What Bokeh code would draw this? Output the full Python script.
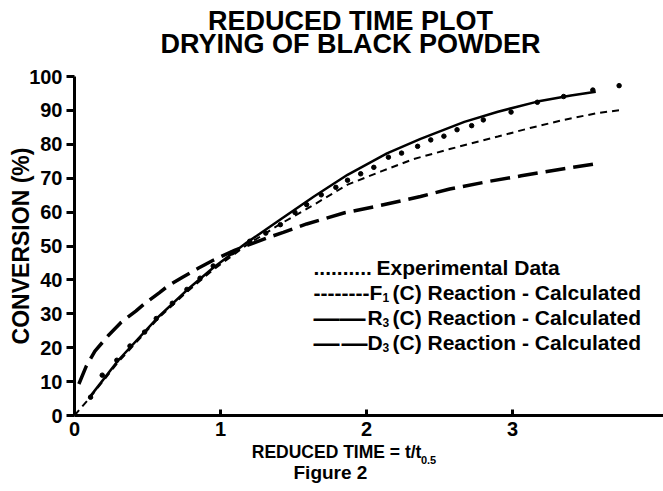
from bokeh.plotting import figure
from bokeh.models import Label, Range1d, FixedTicker, LinearAxis
from bokeh.embed import file_html
from bokeh.resources import INLINE

# ---- data ----
exp_x = [0.11, 0.19, 0.29, 0.38, 0.48, 0.56, 0.67, 0.77, 0.86, 0.95, 1.08, 1.20, 1.31, 1.41,
         1.51, 1.59, 1.69, 1.79, 1.87, 1.96, 2.05, 2.15, 2.24, 2.35, 2.44, 2.53, 2.62, 2.72,
         2.80, 2.99, 3.17, 3.35, 3.55, 3.73]
exp_y = [5.4, 11.9, 16.3, 20.5, 24.6, 28.6, 33.1, 37.2, 40.5, 44.1, 48.0, 51.4, 53.8, 56.3,
         59.9, 62.2, 65.1, 67.3, 69.4, 71.3, 73.2, 76.2, 77.4, 79.4, 81.3, 82.4, 84.3, 85.5,
         87.2, 89.5, 92.4, 94.1, 96.0, 97.3]

solid_x = [0.10, 0.30, 0.57, 0.77, 0.95, 1.18, 1.41, 1.64, 1.87, 2.14, 2.37, 2.67, 2.90, 3.17, 3.40, 3.57]
solid_y = [5.2, 16.3, 28.9, 37.0, 43.6, 51.0, 57.8, 64.6, 71.0, 77.3, 81.6, 86.6, 89.6, 92.6, 94.4, 95.5]

short_x = [0.0, 0.10, 0.30, 0.57, 0.77, 0.95, 1.18, 1.41, 1.64, 1.87, 2.10, 2.32, 2.57, 2.90, 3.12, 3.35, 3.58, 3.74]
short_y = [0.0, 5.0, 15.8, 28.5, 36.5, 43.0, 50.3, 56.5, 62.2, 68.1, 72.0, 75.6, 78.6, 82.3, 84.8, 87.2, 89.2, 90.1]

long_x = [0.03, 0.08, 0.14, 0.23, 0.32, 0.42, 0.48, 0.58, 0.64, 0.74, 0.85, 0.95, 1.10, 1.32,
          1.43, 1.59, 1.85, 2.10, 2.37, 2.57, 2.83, 3.06, 3.31, 3.56]
long_y = [9.3, 14.5, 19.0, 23.5, 27.5, 30.8, 33.0, 36.2, 38.2, 40.8, 43.5, 45.8, 48.8, 52.4,
          54.0, 56.5, 59.8, 62.0, 64.6, 66.8, 69.0, 70.7, 72.5, 74.2]

x_ticks = [0, 1, 2, 3]
y_ticks = [0, 10, 20, 30, 40, 50, 60, 70, 80, 90, 100]

title_lines = ["REDUCED TIME PLOT", "DRYING OF BLACK POWDER"]
x_label, x_label_sub = "REDUCED TIME = t/t", "0.5"
y_label = "CONVERSION (%)"
caption = "Figure 2"

FONT = "Liberation Sans"

p = figure(width=663, height=491, output_backend="svg", toolbar_location=None,
           x_range=Range1d(0, 4.034), y_range=Range1d(0, 100),
           min_border_left=74, min_border_right=0, min_border_top=76, min_border_bottom=76)
p.outline_line_color = None
p.xgrid.visible = False
p.ygrid.visible = False

p.line(solid_x, solid_y, line_color="black", line_width=2.5)
p.line(short_x, short_y, line_color="black", line_width=2, line_dash="7 5")
p.line(long_x, long_y, line_color="black", line_width=3.5, line_dash="20 8")
p.scatter(exp_x, exp_y, size=4.5, color="black")

for ax in (p.xaxis[0], p.yaxis[0]):
    ax.axis_line_width = 3
    ax.major_tick_line_width = 3
    ax.minor_tick_line_color = None
    ax.major_label_text_font = FONT
    ax.major_label_text_font_style = "bold"
    ax.major_label_text_font_size = "20px"
    ax.major_label_text_color = "black"

p.xaxis[0].ticker = FixedTicker(ticks=x_ticks)
p.xaxis[0].major_tick_in = 6
p.xaxis[0].major_tick_out = 0
p.xaxis[0].major_label_standoff = 6
p.yaxis[0].ticker = FixedTicker(ticks=y_ticks)
p.yaxis[0].major_tick_in = 0
p.yaxis[0].major_tick_out = 8
p.yaxis[0].major_label_standoff = 4
p.yaxis[0].axis_label = y_label
p.yaxis[0].axis_label_text_font = FONT
p.yaxis[0].axis_label_text_font_style = "bold"
p.yaxis[0].axis_label_text_font_size = "23px"
p.yaxis[0].axis_label_text_color = "black"
p.yaxis[0].axis_label_standoff = -8


def text_axis(text, xc, size, standoff, side):
    ax = LinearAxis(ticker=FixedTicker(ticks=[xc]), major_label_overrides={xc: text},
                    axis_line_color=None, major_tick_line_color=None,
                    minor_tick_line_color=None, major_tick_in=0, major_tick_out=0,
                    major_label_standoff=standoff, major_label_text_font=FONT,
                    major_label_text_font_style="bold",
                    major_label_text_font_size=f"{size}px", major_label_text_color="black")
    p.add_layout(ax, side)


def px2x(px):
    return round((px - 74) / 146, 3)

# texts outside the frame, as single-tick axes
text_axis(title_lines[1], px2x(350), 27, 18, "above")
text_axis(title_lines[0], px2x(350), 27, -10, "above")
text_axis(x_label, px2x(336), 17.5, 3, "below")
text_axis(x_label_sub, px2x(428), 11, -9, "below")
text_axis(caption, px2x(330), 19, -5, "below")

# legend (inside the frame)
L0, B0 = 74, 415
def lab(text, px, py, size):
    p.add_layout(Label(x=px - L0, y=B0 - py, x_units="screen", y_units="screen", text=text,
                       text_font=FONT, text_font_style="bold", text_font_size=f"{size}px",
                       text_align="left", text_baseline="alphabetic", text_color="black"))

lab("..........", 313, 267, 21)
lab("Experimental Data", 376, 267, 21)
lab("--------", 313, 292, 21)
lab("F", 369, 292, 21)
lab("1", 382, 297, 12)
lab("(C) Reaction - Calculated", 392, 292, 21)
lab("\u2014\u2014", 313, 317, 26)
lab("R", 367, 317, 21)
lab("3", 382, 322, 12)
lab("(C) Reaction - Calculated", 392, 317, 21)
lab("\u2014", 313, 342, 26)
lab("\u2014", 341, 342, 26)
lab("D", 367, 342, 21)
lab("3", 382, 347, 12)
lab("(C) Reaction - Calculated", 392, 342, 21)

open("out.html", "w").write(file_html(p, INLINE))
